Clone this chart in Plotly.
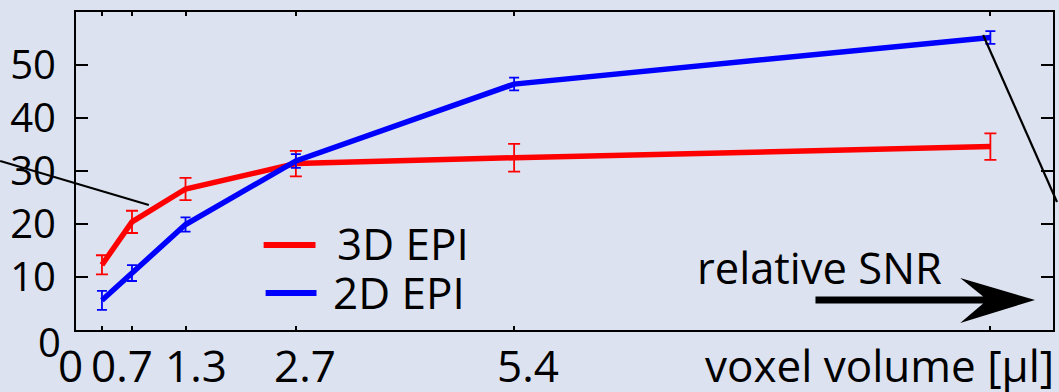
import plotly.graph_objects as go

# Voxel volumes (µl) and relative SNR for both sequences
voxel_volume = [0.32, 0.69, 1.35, 2.71, 5.40, 11.27]
snr_3d = [12.3, 20.4, 26.6, 31.4, 32.5, 34.6]
err_3d = [1.8, 2.1, 2.1, 2.4, 2.6, 2.5]
snr_2d = [5.6, 10.75, 19.9, 31.9, 46.4, 55.2]
err_2d = [1.8, 1.5, 1.35, 1.3, 1.2, 1.2]

x_tick_labels = ["0", "0.7", "1.3", "2.7", "5.4"]
x_tick_values = [0, 0.69, 1.35, 2.71, 5.40]
x_label_shift = [-6, -10, 10, 9, 14]
y_tick_values = [0, 10, 20, 30, 40, 50]

W, H = 1059, 392
ML, MR, MT, MB = 76, 4, 12, 62
PW, PH = W - ML - MR, H - MT - MB

BG = "#dde2f0"
FONT = "Open Sans"
FS = 44
FS_Y = 40
RED = "#ff0000"
BLUE = "#0000ff"


def px(xp, yp):
    """Pixel position -> paper coordinates."""
    return (xp - ML) / PW, (H - MB - yp) / PH


fig = go.Figure()

fig.add_trace(go.Scatter(
    x=voxel_volume, y=snr_3d, mode="lines", name="3D EPI",
    line=dict(color=RED, width=5.5),
    error_y=dict(type="data", array=err_3d, color=RED, thickness=1.8, width=6),
))
fig.add_trace(go.Scatter(
    x=voxel_volume, y=snr_2d, mode="lines", name="2D EPI",
    line=dict(color=BLUE, width=5.5),
    error_y=dict(type="data", array=err_2d, color=BLUE, thickness=1.8, width=5),
))

shapes = []
annotations = []

# callout lines leaving the frame
for (a, b) in [((0, 161), (149, 205)), ((985, 35), (1059, 202))]:
    x0, y0 = px(*a)
    x1, y1 = px(*b)
    shapes.append(dict(type="line", xref="paper", yref="paper",
                       x0=x0, y0=y0, x1=x1, y1=y1,
                       line=dict(color="black", width=2.2)))

# "relative SNR" arrow
arrow_pts = [(817, 296.5), (985, 296.5), (962, 278), (1037, 300),
             (962, 323), (985, 303.5), (817, 303.5)]
path = "M " + " L ".join("%.5f,%.5f" % px(*p) for p in arrow_pts) + " Z"
shapes.append(dict(type="path", xref="paper", yref="paper", path=path,
                   fillcolor="black", line=dict(color="black", width=0)))

# legend
for (x0p, x1p, yp, col, label, tx, ty) in [
        (264, 316, 245, RED, "3D EPI", 336, 243),
        (266, 317, 293, BLUE, "2D EPI", 332, 292)]:
    a0, b0 = px(x0p, yp)
    a1, _ = px(x1p, yp)
    shapes.append(dict(type="line", xref="paper", yref="paper",
                       x0=a0, y0=b0, x1=a1, y1=b0,
                       line=dict(color=col, width=6)))
    ax, ay = px(tx, ty)
    annotations.append(dict(text=label, xref="paper", yref="paper", x=ax, y=ay,
                            xanchor="left", yanchor="middle", showarrow=False,
                            height=44, valign="middle",
                            font=dict(family=FONT, size=FS, color="black")))

ax, ay = px(696, 267)
annotations.append(dict(text="relative SNR", xref="paper", yref="paper", x=ax, y=ay,
                        xanchor="left", yanchor="middle", showarrow=False,
                        height=44, valign="middle",
                        font=dict(family=FONT, size=43.5, color="black")))
ax, ay = px(1058, 365)
annotations.append(dict(text="voxel volume [µl]", xref="paper", yref="paper", x=ax, y=ay,
                        xanchor="right", yanchor="middle", showarrow=False,
                        font=dict(family=FONT, size=FS, color="black")))

# x tick labels
_, ly = px(0, 365)
for v, t, s in zip(x_tick_values, x_tick_labels, x_label_shift):
    annotations.append(dict(text=t, xref="x", yref="paper", x=v, y=ly, xshift=s,
                            xanchor="center", yanchor="middle", showarrow=False,
                            font=dict(family=FONT, size=FS, color="black")))

# y tick label for zero sits a bit lower
lx, _ = px(63, 0)
annotations.append(dict(text="0", xref="paper", yref="y", x=lx, y=0, yshift=-11,
                        xanchor="right", yanchor="middle", showarrow=False,
                        font=dict(family=FONT, size=FS_Y, color="black")))

fig.update_layout(
    width=W, height=H,
    margin=dict(l=ML, r=MR, t=MT, b=MB, pad=0),
    paper_bgcolor=BG, plot_bgcolor=BG,
    showlegend=False,
    shapes=shapes, annotations=annotations,
    font=dict(family=FONT, size=FS, color="black"),
    xaxis=dict(range=[0, PW / 81.3], tickvals=voxel_volume, ticks="inside",
               ticklen=4, tickwidth=2, tickcolor="black", showticklabels=False,
               showline=True, linecolor="black", linewidth=2, mirror="ticks",
               showgrid=False, zeroline=False),
    yaxis=dict(range=[0, 60], tickvals=y_tick_values,
               ticktext=[""] + [str(v) for v in y_tick_values[1:]],
               ticks="inside", ticklen=12, tickwidth=2, tickcolor="black",
               showline=True, linecolor="black", linewidth=2, mirror="ticks",
               showgrid=False, zeroline=False, ticklabelstandoff=10,
               tickfont=dict(family=FONT, size=FS_Y, color="black")),
)

fig.write_html("out.html")
